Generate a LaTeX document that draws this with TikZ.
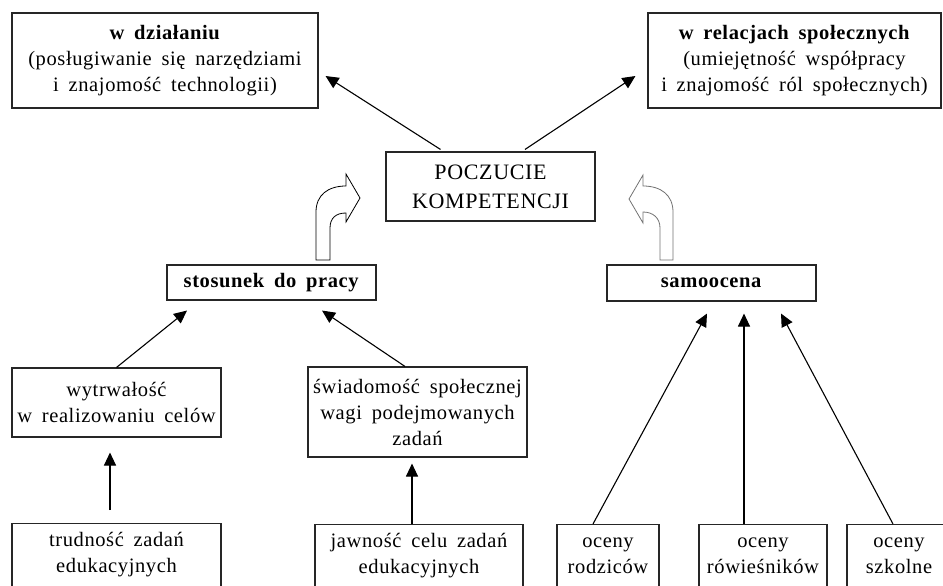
\documentclass[tikz,border=0pt]{standalone}
\usepackage{fontspec}
\setmainfont{Liberation Serif}[LetterSpace=3,WordSpace=1.7]
\usetikzlibrary{arrows.meta}
\begin{document}
\begin{tikzpicture}[x=1pt,y=-1pt,
  box/.style={draw=black!85,line width=1.1pt,align=center,inner sep=0pt,font=\fontsize{20.5}{26}\selectfont},
  openbox/.style={box,anchor=north,inner ysep=5pt},
  arr/.style={line width=1.1pt,-{Triangle[length=13pt,width=12pt]}},
  hollow/.style={line width=0.8pt,fill=white,line join=miter}]
\clip (0,0) rectangle (943,586);
% top boxes
\node[box,minimum width=306pt,minimum height=95pt] (tl) at (165,60.5)
  {\textbf{w działaniu}\\(posługiwanie się narzędziami\\i znajomość technologii)};
\node[box,minimum width=293pt,minimum height=95pt] (tr) at (794.5,60.5)
  {\textbf{w relacjach społecznych}\\(umiejętność współpracy\\i znajomość ról społecznych)};
% centre
\node[box,minimum width=209pt,minimum height=69pt,font=\fontsize{22}{29}\selectfont] (pk) at (490.5,186.5)
  {POCZUCIE\\KOMPETENCJI};
% middle
\node[box,minimum width=209pt,minimum height=35pt] (st) at (271.5,282.5) {\textbf{stosunek do pracy}};
\node[box,minimum width=209pt,minimum height=36pt] (sa) at (711.5,283) {\textbf{samoocena}};
\node[box,minimum width=209pt,minimum height=69pt] (wy) at (116.5,402.5)
  {wytrwałość\\w realizowaniu celów};
\node[box,minimum width=219pt,minimum height=90pt] (sw) at (417.5,412)
  {świadomość społecznej\\wagi podejmowanych\\zadań};
% bottom boxes (cut by the lower edge)
\node[openbox,minimum width=209pt] (td) at (116.5,523)
  {\strut trudność zadań\\edukacyjnych\\\strut\\\strut};
\node[openbox,minimum width=208pt] (ja) at (419,524)
  {\strut jawność celu zadań\\edukacyjnych\\\strut\\\strut};
\node[openbox,minimum width=102pt] (ro) at (608,524)
  {\strut oceny\\rodziców\\\strut\\\strut};
\node[openbox,minimum width=128pt] (rw) at (763,524)
  {\strut oceny\\rówieśników\\\strut\\\strut};
\node[openbox,minimum width=104pt] (sz) at (899,524)
  {\strut oceny\\szkolne\\\strut\\\strut};
% connectors
\draw[arr] ([xshift=-50pt,yshift=2pt]pk.north) -- ([xshift=7pt,yshift=-15.5pt]tl.east);
\draw[arr] ([xshift=34.5pt,yshift=2pt]pk.north) -- ([xshift=-12pt,yshift=-15.5pt]tr.west);
\draw[arr] (wy.north) -- ([xshift=-84.5pt,yshift=-10pt]st.south);
\draw[arr] ([xshift=-12.5pt]sw.north) -- ([xshift=50.5pt,yshift=-10pt]st.south);
\draw[arr] ([xshift=-6.5pt,yshift=13pt]td.north) -- ([xshift=-6.5pt,yshift=-15pt]wy.south);
\draw[arr] ([xshift=-7pt]ja.north) -- ([xshift=-5.5pt,yshift=-6pt]sw.south);
\draw[arr] ([xshift=-15pt]ro.north) -- ([xshift=-4.5pt,yshift=-12pt]sa.south);
\draw[arr] ([xshift=-19pt]rw.north) -- ([xshift=32.5pt,yshift=-12pt]sa.south);
\draw[arr] ([xshift=-6pt]sz.north) -- ([xshift=69.5pt,yshift=-12pt]sa.south);
% hollow bent arrows
\draw[hollow,draw=black] (316,260) -- (316,212) .. controls (316,195) and (328,186) .. (346,186)
  -- (346,174) -- (360,198) -- (346,222) -- (346,213)
  .. controls (336,213) and (330,218) .. (330,228) -- (330,260) -- cycle;
\draw[hollow,draw=black!55] (673,260) -- (673,212) .. controls (673,195) and (661,186) .. (643,186)
  -- (643,175) -- (629,199) -- (643,223) -- (643,212)
  .. controls (653,212) and (660,218) .. (660,228) -- (660,260) -- cycle;
\end{tikzpicture}
\end{document}
